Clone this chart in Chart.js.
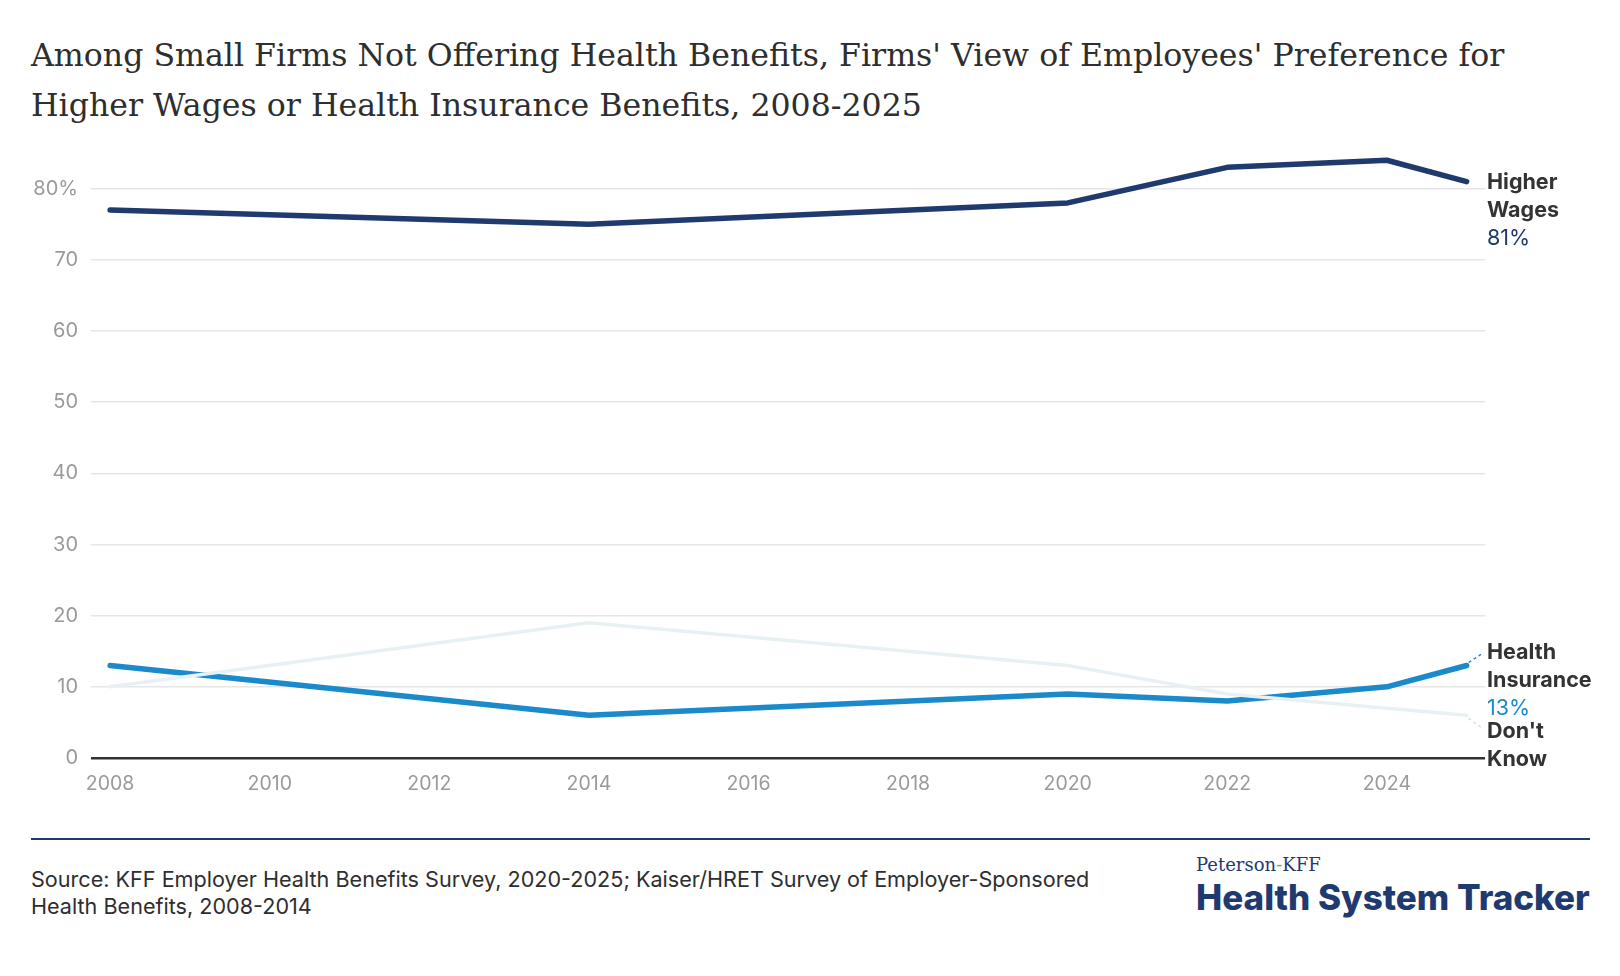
<!DOCTYPE html>
<html>
<head>
<meta charset="utf-8">
<title>Small firms: higher wages vs health insurance</title>
<script src="https://cdn.jsdelivr.net/npm/chart.js@4.4.1/dist/chart.umd.min.js"></script>
<style>
    html, body { margin: 0; padding: 0; background: #fff; }
    body { width: 1620px; height: 976px; position: relative; overflow: hidden; font-family: Inter, Lato, sans-serif; }
    #title {
        position: absolute; left: 31px; top: 30px; margin: 0;
        font-family: "DejaVu Serif", serif; font-weight: normal;
        font-size: 31.6px; line-height: 50px; color: #2e2e2e;
    }
    #chartBox { position: absolute; left: 0; top: 121px; width: 1620px; height: 687px; }
    #rule { position: absolute; left: 31px; top: 838px; width: 1559px; height: 2px; background: #1f3a6e; }
    #source {
        position: absolute; left: 31px; top: 866px; width: 1140px;
        font-size: 21.6px; line-height: 27px; color: #2e2e2e;
    }
    #logo { position: absolute; left: 1196px; top: 854px; color: #1f3a6e; }
    #logo .small { font-family: "DejaVu Serif", serif; font-size: 18px; line-height: 22px; }
    #logo .small span { color: #5bb05b; }
    #logo .big { font-weight: 800; font-size: 35px; line-height: 42px; letter-spacing: 0; }
</style>
</head>
<body>
<h1 id="title">Among Small Firms Not Offering Health Benefits, Firms' View of Employees' Preference for<br>Higher Wages or Health Insurance Benefits, 2008-2025</h1>
<div id="chartBox"><canvas id="prefChart"></canvas></div>
<div id="rule"></div>
<div id="source">Source: KFF Employer Health Benefits Survey, 2020-2025; Kaiser/HRET Survey of Employer-Sponsored<br>Health Benefits, 2008-2014</div>
<div id="logo">
    <div class="small">Peterson<span>-</span>KFF</div>
    <div class="big">Health System Tracker</div>
</div>
<script>
// survey years and shares (percent of firms)
const years = [2008, 2014, 2020, 2022, 2024, 2025];
const higherWages = [77, 75, 78, 83, 84, 81];
const healthInsurance = [13, 6, 9, 8, 10, 13];
const dontKnow = [10, 19, 13, 9, 7, 6];

const xTicks = [2008, 2010, 2012, 2014, 2016, 2018, 2020, 2022, 2024];
const yTicks = [0, 10, 20, 30, 40, 50, 60, 70, 80];

const NAVY = "#1f3a6e";
const BLUE = "#1a8acb";
const PALE = "#e9f0f3";

function toPoints(values) {
    return years.map((yr, i) => ({ x: yr, y: values[i] }));
}

// end-of-line labels, anchored on the last point of each series
const endLabels = {
    id: "endLabels",
    afterDatasetsDraw(chart) {
        const ctx = chart.ctx;
        const items = [
            { ds: 2, lines: ["Higher", "Wages"], value: "81%", color: NAVY, dy: 1, link: false },
            { ds: 1, lines: ["Health", "Insurance"], value: "13%", color: BLUE, dy: -13, link: true },
            { ds: 0, lines: ["Don't", "Know"], value: null, color: "#d7e3e8", dy: 16, link: true }
        ];
        const x = chart.chartArea.right + 2;
        ctx.save();
        items.forEach((it) => {
            const meta = chart.getDatasetMeta(it.ds);
            const last = meta.data[meta.data.length - 1];
            const top = last.y + it.dy;
            if (it.link) {
                ctx.setLineDash([3, 3]);
                ctx.strokeStyle = it.color;
                ctx.lineWidth = 1.5;
                ctx.beginPath();
                ctx.moveTo(last.x + 2, last.y + (it.dy < 0 ? -3 : 3));
                ctx.lineTo(x - 6, top + (it.dy < 0 ? 2 : -4));
                ctx.stroke();
                ctx.setLineDash([]);
            }
            ctx.textBaseline = "middle";
            ctx.textAlign = "left";
            ctx.fillStyle = "#333";
            ctx.font = "bold 21.5px Inter";
            it.lines.forEach((t, i) => ctx.fillText(t, x, top + i * 28));
            if (it.value) {
                ctx.fillStyle = it.color;
                ctx.font = "21.5px Inter";
                ctx.fillText(it.value, x, top + 2 * 28);
            }
        });
        ctx.restore();
    }
};

function renderChart() {
    const ctx = document.getElementById("prefChart").getContext("2d");

    new Chart(ctx, {
        type: "line",
        data: {
            datasets: [{
                label: "Don't Know",
                data: toPoints(dontKnow),
                borderColor: PALE,
                borderWidth: 3.5
            }, {
                label: "Health Insurance",
                data: toPoints(healthInsurance),
                borderColor: BLUE,
                borderWidth: 5.5
            }, {
                label: "Higher Wages",
                data: toPoints(higherWages),
                borderColor: NAVY,
                borderWidth: 5.5
            }]
        },
        options: {
            responsive: true,
            maintainAspectRatio: false,
            animation: false,
            layout: { padding: { top: 10, right: 135, left: 0, bottom: 0 } },
            elements: {
                point: { radius: 0, hoverRadius: 0 },
                line: { tension: 0, borderCapStyle: "round", borderJoinStyle: "round" }
            },
            plugins: {
                legend: { display: false },
                tooltip: { enabled: false }
            },
            scales: {
                x: {
                    type: "linear",
                    min: 2007.76,
                    max: 2025.23,
                    afterBuildTicks: (scale) => { scale.ticks = xTicks.map((v) => ({ value: v })); },
                    afterFit: (scale) => { scale.height = 50; },
                    grid: { display: false, drawTicks: false },
                    border: { display: false },
                    ticks: {
                        color: "#9a9a9a",
                        font: { family: "Inter", size: 19.5 },
                        padding: 14,
                        maxRotation: 0,
                        callback: (v) => String(v)
                    }
                },
                y: {
                    min: 0,
                    max: 86,
                    afterBuildTicks: (scale) => { scale.ticks = yTicks.map((v) => ({ value: v })); },
                    afterFit: (scale) => { scale.width = 91; },
                    grid: {
                        drawTicks: false,
                        color: (c) => (c.tick && c.tick.value === 0 ? "#333" : "#e6e6e6"),
                        lineWidth: (c) => (c.tick && c.tick.value === 0 ? 2.5 : 1.5)
                    },
                    border: { display: false },
                    ticks: {
                        color: "#9a9a9a",
                        font: { family: "Inter", size: 20 },
                        padding: 13,
                        callback: (v) => (v === 80 ? "80%" : String(v))
                    }
                }
            }
        },
        plugins: [endLabels]
    });
}

document.addEventListener("DOMContentLoaded", () => {
    renderChart();
});
</script>
</body>
</html>
